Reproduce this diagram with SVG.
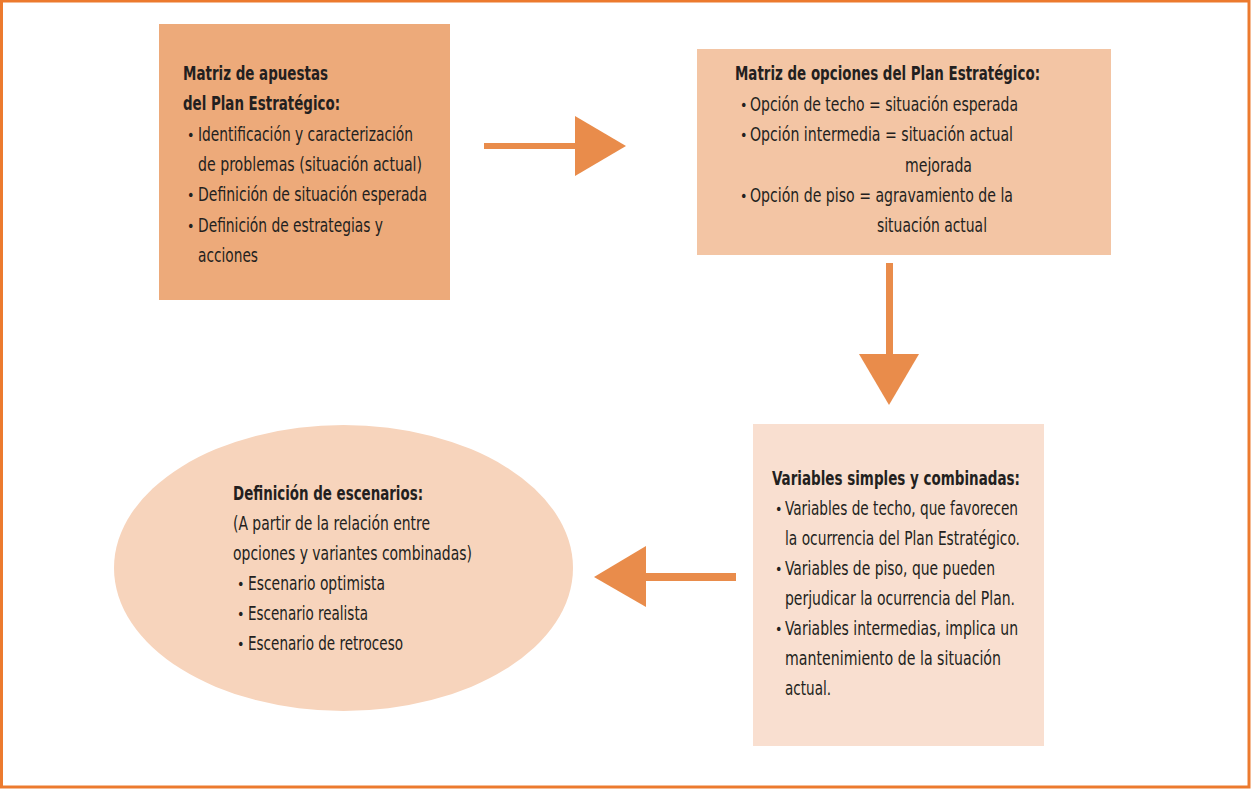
<svg xmlns="http://www.w3.org/2000/svg" width="1251" height="789" viewBox="0 0 1251 789">
<style>
text{font-family:"Liberation Sans Narrow","DejaVu Sans Condensed","Liberation Sans",sans-serif;font-size:20px;fill:#231f20}
.b{font-weight:bold}
.d{font-size:14px}
.arrow{fill:#e98c4b}
</style>
<rect x="1.5" y="1" width="1247.5" height="786" fill="#ffffff" stroke="#ec7a2e" stroke-width="3"/>
<g id="connectors">
<g id="arrow1"><rect class="arrow" x="484" y="143" width="93" height="6"/><polygon class="arrow" points="575,116 626,146 575,176"/></g>
<g id="arrow2"><rect class="arrow" x="886" y="263" width="7" height="93"/><polygon class="arrow" points="859,354 919,354 889,405"/></g>
<g id="arrow3"><rect class="arrow" x="644" y="573" width="92" height="8"/><polygon class="arrow" points="646,546 594,577 646,607"/></g>
</g>
<g id="node1">
<rect x="159" y="24" width="291" height="276" fill="#edaa7a"/>
<text class="b" x="183" y="80" textLength="145" lengthAdjust="spacingAndGlyphs">Matriz de apuestas</text>
<text class="b" x="183" y="110" textLength="157" lengthAdjust="spacingAndGlyphs">del Plan Estratégico:</text>
<text class="d" x="187" y="140">•</text>
<text x="198" y="141" textLength="215" lengthAdjust="spacingAndGlyphs">Identificación y caracterización</text>
<text x="198" y="171" textLength="224" lengthAdjust="spacingAndGlyphs">de problemas (situación actual)</text>
<text class="d" x="187" y="200">•</text>
<text x="198" y="201" textLength="229" lengthAdjust="spacingAndGlyphs">Definición de situación esperada</text>
<text class="d" x="187" y="231">•</text>
<text x="198" y="232" textLength="185" lengthAdjust="spacingAndGlyphs">Definición de estrategias y</text>
<text x="198" y="262" textLength="60" lengthAdjust="spacingAndGlyphs">acciones</text>
</g>
<g id="node2">
<rect x="697" y="49" width="414" height="206" fill="#f3c5a4"/>
<text class="b" x="735" y="80" textLength="305" lengthAdjust="spacingAndGlyphs">Matriz de opciones del Plan Estratégico:</text>
<text class="d" x="740" y="110">•</text>
<text x="750" y="111" textLength="268" lengthAdjust="spacingAndGlyphs">Opción de techo = situación esperada</text>
<text class="d" x="740" y="140">•</text>
<text x="750" y="141" textLength="263" lengthAdjust="spacingAndGlyphs">Opción intermedia = situación actual</text>
<text x="905" y="172" textLength="67" lengthAdjust="spacingAndGlyphs">mejorada</text>
<text class="d" x="740" y="201">•</text>
<text x="750" y="202" textLength="263" lengthAdjust="spacingAndGlyphs">Opción de piso = agravamiento de la</text>
<text x="877" y="232" textLength="110" lengthAdjust="spacingAndGlyphs">situación actual</text>
</g>
<g id="node3">
<rect x="753" y="424" width="291" height="322" fill="#f9dfd0"/>
<text class="b" x="772" y="485" textLength="248" lengthAdjust="spacingAndGlyphs">Variables simples y combinadas:</text>
<text class="d" x="775" y="514">•</text>
<text x="785" y="515" textLength="233" lengthAdjust="spacingAndGlyphs">Variables de techo, que favorecen</text>
<text x="785" y="545" textLength="235" lengthAdjust="spacingAndGlyphs">la ocurrencia del Plan Estratégico.</text>
<text class="d" x="775" y="574">•</text>
<text x="785" y="575" textLength="210" lengthAdjust="spacingAndGlyphs">Variables de piso, que pueden</text>
<text x="785" y="605" textLength="230" lengthAdjust="spacingAndGlyphs">perjudicar la ocurrencia del Plan.</text>
<text class="d" x="775" y="634">•</text>
<text x="785" y="635" textLength="233" lengthAdjust="spacingAndGlyphs">Variables intermedias, implica un</text>
<text x="785" y="665" textLength="216" lengthAdjust="spacingAndGlyphs">mantenimiento de la situación</text>
<text x="785" y="695" textLength="46" lengthAdjust="spacingAndGlyphs">actual.</text>
</g>
<g id="node4">
<ellipse cx="343.5" cy="568" rx="229.5" ry="143" fill="#f7d4bc"/>
<text class="b" x="233" y="500" textLength="190" lengthAdjust="spacingAndGlyphs">Definición de escenarios:</text>
<text x="233" y="530" textLength="197" lengthAdjust="spacingAndGlyphs">(A partir de la relación entre</text>
<text x="233" y="560" textLength="239" lengthAdjust="spacingAndGlyphs">opciones y variantes combinadas)</text>
<text class="d" x="237" y="589">•</text>
<text x="248" y="590" textLength="137" lengthAdjust="spacingAndGlyphs">Escenario optimista</text>
<text class="d" x="237" y="619">•</text>
<text x="248" y="620" textLength="120" lengthAdjust="spacingAndGlyphs">Escenario realista</text>
<text class="d" x="237" y="649">•</text>
<text x="248" y="650" textLength="155" lengthAdjust="spacingAndGlyphs">Escenario de retroceso</text>
</g>
</svg>
